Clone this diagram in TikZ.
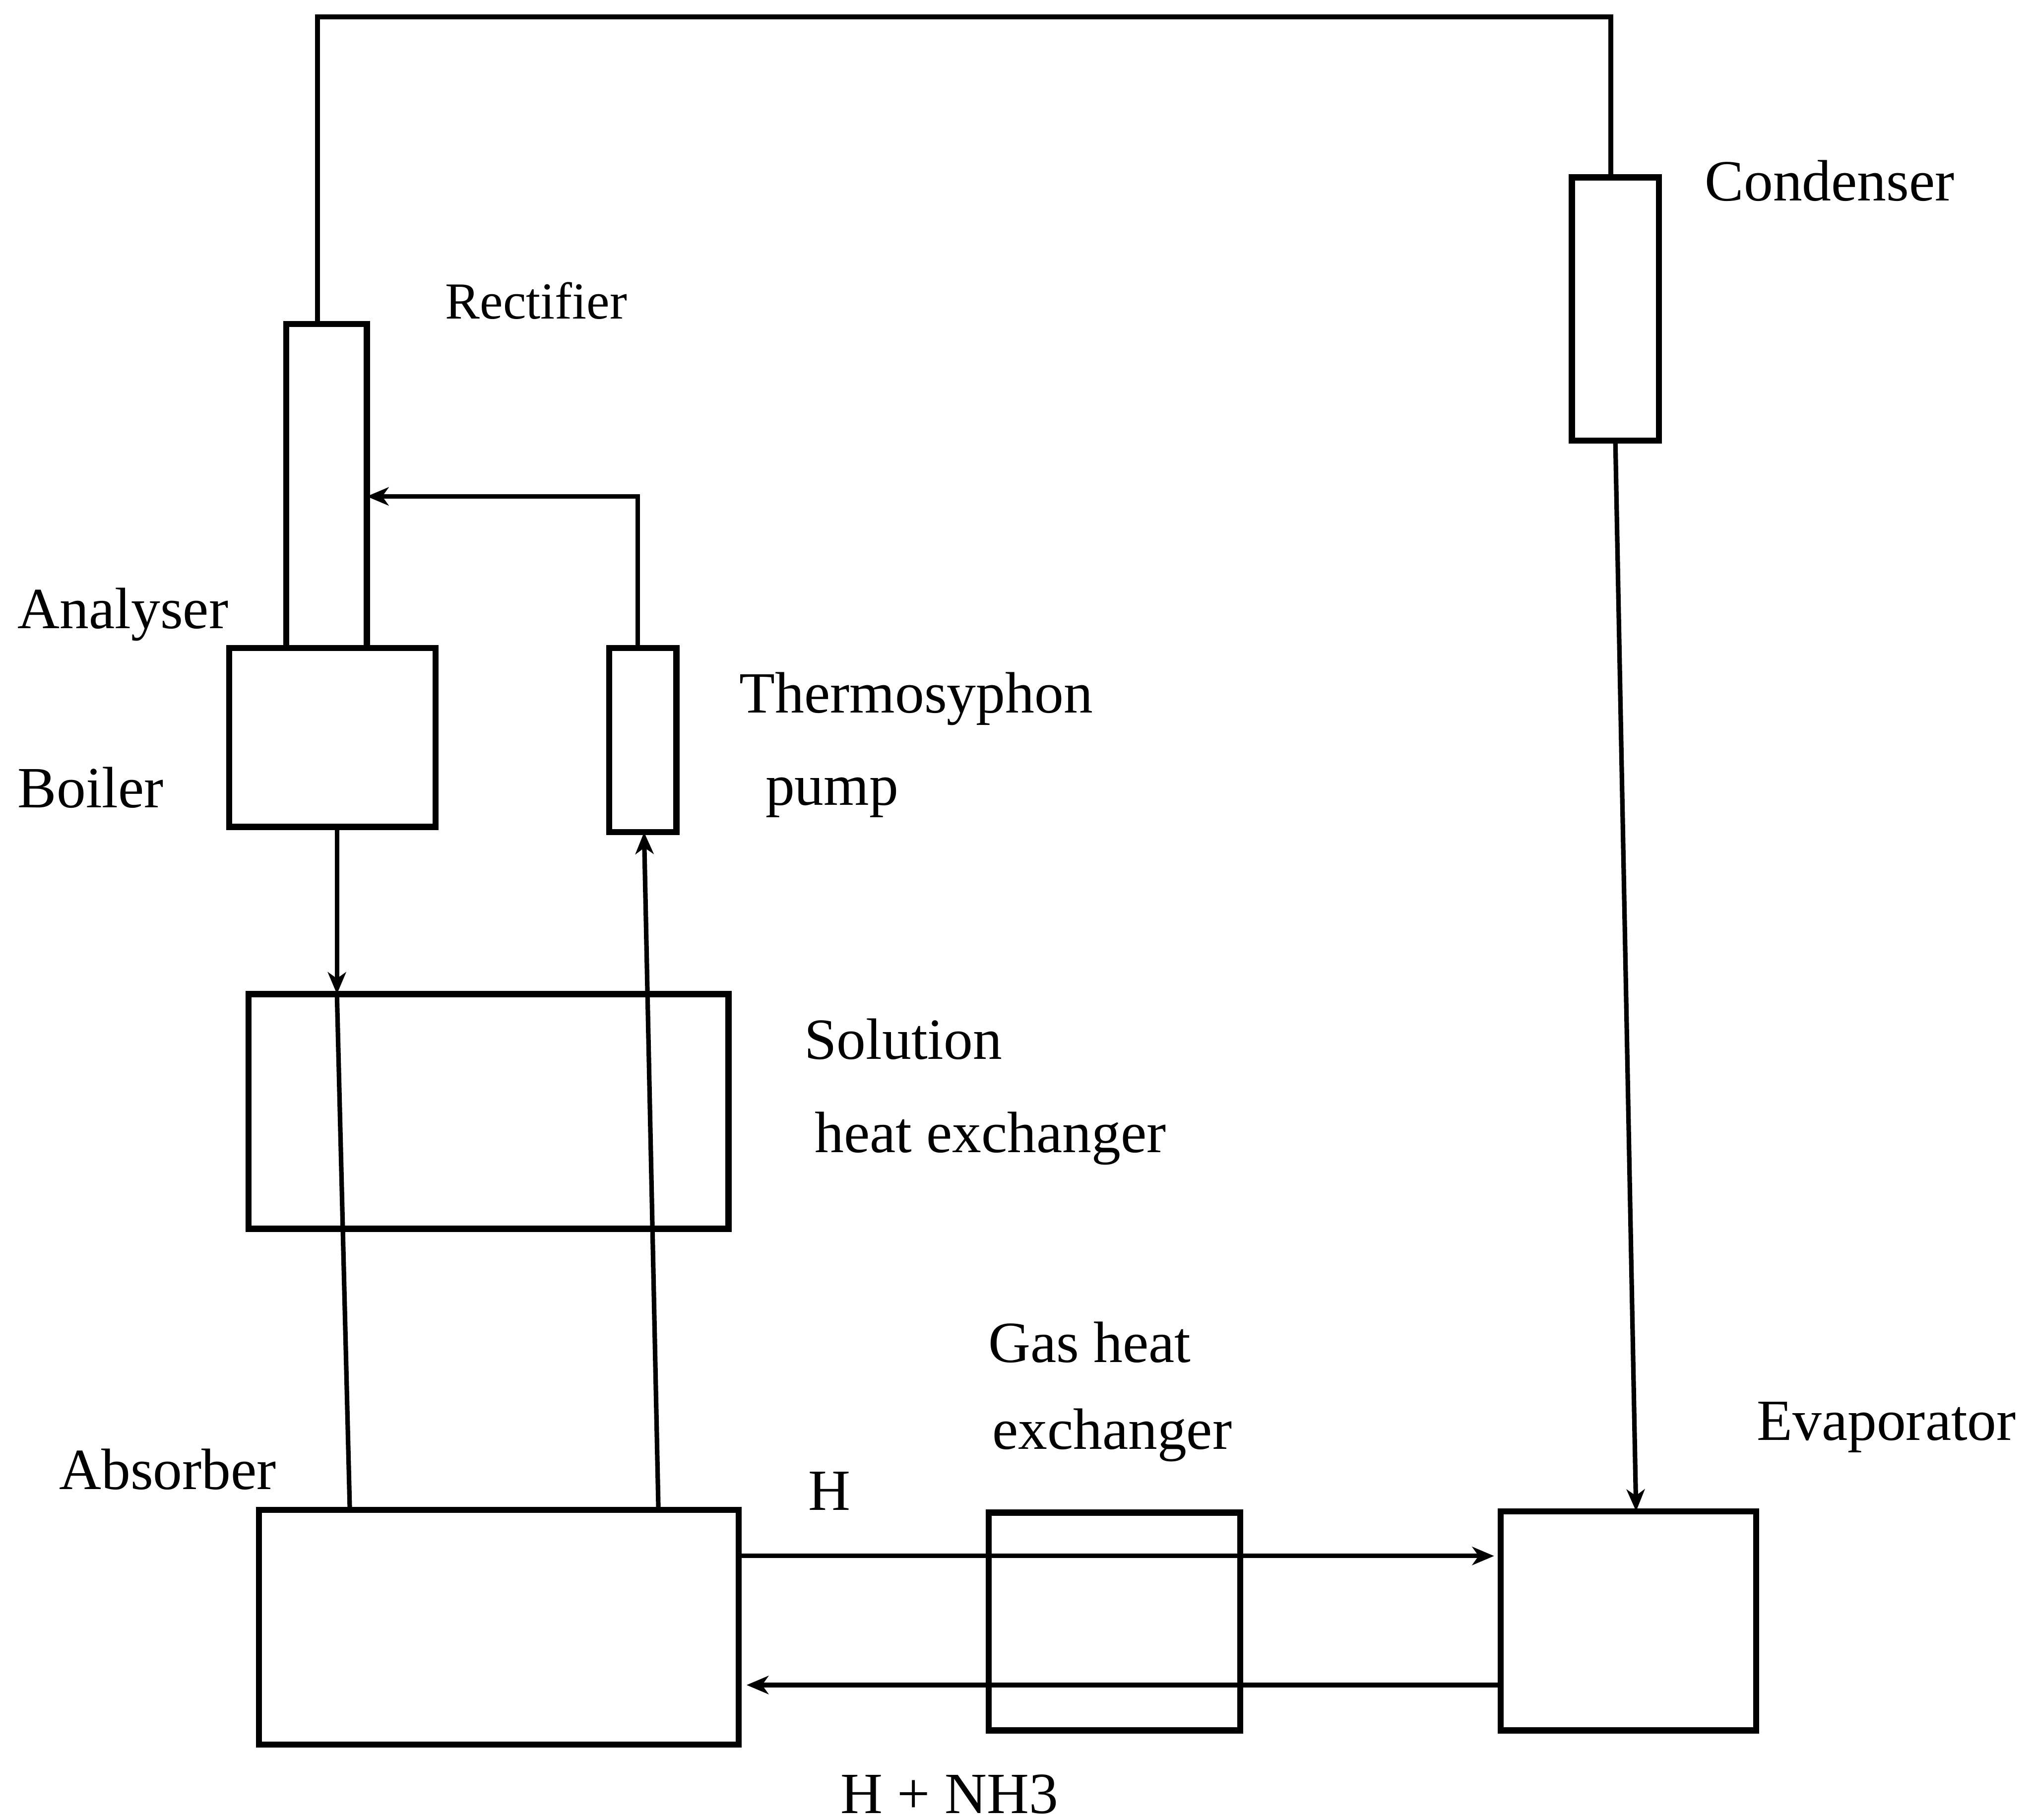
\documentclass[tikz,border=0pt]{standalone}
\usepackage{fontspec}
\setmainfont{Liberation Serif}
\usetikzlibrary{arrows.meta}
\begin{document}
\begin{tikzpicture}[x=0.01cm,y=-0.01cm,
  box/.style={draw,line width=1.35pt,inner sep=0pt,outer sep=0pt,rectangle},
  conn/.style={line width=1pt},
  arr/.style={conn,-{Stealth[length=4.8pt,width=4pt,inset=1.4pt]}},
  lbl/.style={anchor=base west,inner sep=0pt,font=\fontsize{12.8}{15}\selectfont},
  slbl/.style={anchor=base west,inner sep=0pt,font=\fontsize{11.4}{14}\selectfont}]
\useasboundingbox (0,0) rectangle (1568,1404);
% boxes
\node[box,minimum width=0.67cm,minimum height=2.03cm] (cond) at (1246.5,238.5) {};
\node[box,minimum width=0.62cm,minimum height=2.50cm] (col) at (252,375) {};
\node[box,minimum width=1.59cm,minimum height=1.38cm] (boiler) at (256.5,569) {};
\node[box,minimum width=0.52cm,minimum height=1.42cm] (tsp) at (496,571) {};
\node[box,minimum width=3.70cm,minimum height=1.81cm] (shx) at (377,857.5) {};
\node[box,minimum width=3.70cm,minimum height=1.81cm] (abs) at (385,1255.5) {};
\node[box,minimum width=1.94cm,minimum height=1.68cm] (ghx) at (860,1251) {};
\node[box,minimum width=1.97cm,minimum height=1.69cm] (evap) at (1256.5,1250.5) {};
% connectors
\coordinate (topy) at (0,13);
\draw[conn] ([xshift=-0.07cm]col.north) |- ([xshift=-0.035cm]cond.north |- topy) -- ([xshift=-0.035cm]cond.north);
\draw[arr] (cond.south) -- ([xshift=0.06cm]evap.north);
\draw[arr] ([xshift=-0.04cm]tsp.north) |- ([yshift=-0.08cm]col.east);
\draw[arr] ([xshift=0.035cm]boiler.south) -- ([xshift=0.035cm]boiler.south |- shx.north);
\draw[conn] ([xshift=0.035cm]boiler.south |- shx.north) -- ([xshift=0.70cm]abs.north west);
\draw[arr] ([xshift=3.08cm]abs.north west) -- ([xshift=0.01cm]tsp.south);
\draw[arr,shorten >=0.05cm] ([yshift=0.55cm]abs.east) -- ([yshift=0.55cm]abs.east -| evap.west);
\draw[arr,shorten >=0.06cm] ([yshift=-0.495cm]evap.west) -- ([yshift=-0.495cm]evap.west -| abs.east);
% labels
\node[lbl] (tcond) at (1315,155) {Condenser};
\node[slbl] (trect) at (343,246) {Rectifier};
\node[lbl] (tanal) at (13,485) {Analyser};
\node[lbl] (tboil) at (13,623) {Boiler};
\node[lbl] (ttherm) at (570,550) {Thermosyphon};
\node[lbl] (tpump) at (590,621) {pump};
\node[lbl] (tsol) at (620,817) {Solution};
\node[lbl] (theat) at (628,889) {heat exchanger};
\node[lbl] (tgas) at (762,1051) {Gas heat};
\node[lbl] (texch) at (765,1118) {exchanger};
\node[lbl] (tevap) at (1355,1111) {Evaporator};
\node[lbl] (tabs) at (45,1149) {Absorber};
\node[lbl] (th) at (623,1165) {H};
\node[lbl] (thn) at (648,1399) {H + NH3};
\end{tikzpicture}
\end{document}
